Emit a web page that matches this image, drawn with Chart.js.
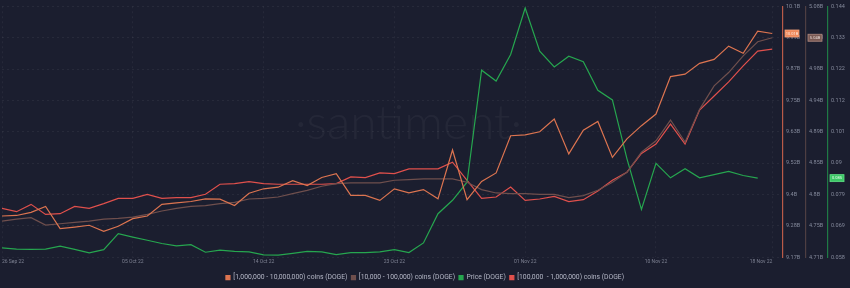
<!DOCTYPE html>
<html>
<head>
<meta charset="utf-8">
<script src="https://cdn.jsdelivr.net/npm/chart.js@4.4.0/dist/chart.umd.min.js"></script>
<style>
  html, body { margin: 0; padding: 0; background: #1b1e2f; }
  canvas { display: block; }
</style>
</head>
<body>
<canvas id="chart" width="850" height="288"></canvas>
<script>
const dates = [
  '26 Sep 22', '27 Sep 22', '28 Sep 22', '29 Sep 22', '30 Sep 22',
  '01 Oct 22', '02 Oct 22', '03 Oct 22', '04 Oct 22', '05 Oct 22', '06 Oct 22', '07 Oct 22',
  '08 Oct 22', '09 Oct 22', '10 Oct 22', '11 Oct 22', '12 Oct 22', '13 Oct 22', '14 Oct 22',
  '15 Oct 22', '16 Oct 22', '17 Oct 22', '18 Oct 22', '19 Oct 22', '20 Oct 22', '21 Oct 22',
  '22 Oct 22', '23 Oct 22', '24 Oct 22', '25 Oct 22', '26 Oct 22', '27 Oct 22', '28 Oct 22',
  '29 Oct 22', '30 Oct 22', '31 Oct 22', '01 Nov 22', '02 Nov 22', '03 Nov 22', '04 Nov 22',
  '05 Nov 22', '06 Nov 22', '07 Nov 22', '08 Nov 22', '09 Nov 22', '10 Nov 22', '11 Nov 22',
  '12 Nov 22', '13 Nov 22', '14 Nov 22', '15 Nov 22', '16 Nov 22', '17 Nov 22', '18 Nov 22'
];

// balances in billions of DOGE
const holders1Mto10M = [
  9.319, 9.321, 9.333, 9.355, 9.271, 9.277, 9.284, 9.261, 9.280, 9.309,
  9.319, 9.363, 9.369, 9.374, 9.384, 9.383, 9.359, 9.405, 9.422, 9.428,
  9.453, 9.434, 9.465, 9.479, 9.397, 9.397, 9.378, 9.422, 9.407, 9.419,
  9.384, 9.569, 9.381, 9.450, 9.482, 9.623, 9.626, 9.638, 9.686, 9.554,
  9.644, 9.677, 9.541, 9.611, 9.661, 9.705, 9.847, 9.856, 9.897, 9.912,
  9.962, 9.935, 10.019, 10.010
];
const holders10kto100k = [
  4.764, 4.767, 4.769, 4.758, 4.760, 4.762, 4.764, 4.767, 4.768, 4.770,
  4.774, 4.779, 4.783, 4.786, 4.787, 4.790, 4.792, 4.797, 4.798, 4.800,
  4.805, 4.810, 4.816, 4.820, 4.821, 4.821, 4.821, 4.825, 4.826, 4.827,
  4.827, 4.827, 4.822, 4.811, 4.806, 4.805, 4.805, 4.804, 4.804, 4.799,
  4.802, 4.810, 4.822, 4.837, 4.867, 4.884, 4.915, 4.882, 4.931, 4.966,
  4.986, 5.011, 5.032, 5.038
];
const holders100kto1M = [
  4.783, 4.778, 4.789, 4.774, 4.775, 4.786, 4.783, 4.790, 4.798, 4.798,
  4.804, 4.798, 4.799, 4.799, 4.804, 4.819, 4.820, 4.823, 4.820, 4.819,
  4.819, 4.819, 4.819, 4.820, 4.830, 4.829, 4.836, 4.835, 4.842, 4.842,
  4.842, 4.852, 4.825, 4.798, 4.800, 4.815, 4.795, 4.797, 4.801, 4.793,
  4.796, 4.809, 4.825, 4.837, 4.865, 4.879, 4.909, 4.879, 4.930, 4.951,
  4.972, 4.996, 5.018, 5.021
];
// price in USD, last day missing
const priceDoge = [
  0.0612, 0.0608, 0.0607, 0.0608, 0.0618, 0.0607, 0.0595, 0.0606, 0.0661, 0.0649,
  0.0638, 0.0627, 0.0619, 0.0623, 0.0597, 0.0604, 0.0600, 0.0598, 0.0588, 0.0587,
  0.0593, 0.0600, 0.0598, 0.0589, 0.0596, 0.0596, 0.0598, 0.0606, 0.0596, 0.0629,
  0.0729, 0.0775, 0.0837, 0.1221, 0.1184, 0.1275, 0.1434, 0.1286, 0.1232, 0.1269,
  0.1250, 0.1152, 0.1119, 0.0918, 0.0744, 0.0902, 0.0852, 0.0883, 0.0852, 0.0863,
  0.0874, 0.0860, 0.0851
];

const xTickLabels = ['26 Sep 22', '05 Oct 22', '14 Oct 22', '23 Oct 22', '01 Nov 22', '10 Nov 22', '18 Nov 22'];
const axis1Labels = ['9.17B', '9.28B', '9.4B', '9.52B', '9.63B', '9.75B', '9.87B', '9.99B', '10.1B'];
const axis2Labels = ['4.71B', '4.75B', '4.8B', '4.85B', '4.89B', '4.94B', '4.98B', '5.03B', '5.08B'];
const axis3Labels = ['0.058', '0.069', '0.079', '0.09', '0.101', '0.112', '0.122', '0.133', '0.144'];

const ORANGE = '#dc7450';
const BROWN = '#6f4f4d';
const GREEN = '#26a64f';
const RED = '#e0504c';

function points(arr) {
  return arr.map((v, i) => ({ x: i, y: v }));
}

function evenTicks(scale) {
  const n = 8;
  const ticks = [];
  for (let i = 0; i <= n; i++) ticks.push({ value: scale.min + (scale.max - scale.min) * i / n });
  scale.ticks = ticks;
}

const tickFont = { family: 'Roboto', size: 5.5 };

function yAxis(min, max, labels, color, width, showGrid) {
  return {
    position: 'right',
    min: min,
    max: max,
    afterBuildTicks: evenTicks,
    afterFit: s => { s.width = width; },
    border: { display: true, color: color, width: 1.2, dash: [2, 3] },
    grid: { display: showGrid, drawTicks: false, color: 'rgba(255,255,255,0.055)' },
    ticks: {
      padding: 3,
      color: '#858a9c',
      font: tickFont,
      callback: (v, i) => labels[i]
    }
  };
}

// pull the legend a little lower than chart.js would place it
const legendShift = {
  id: 'legendShift',
  afterInit(chart) {
    const legend = chart.legend;
    const fit = legend.fit;
    legend.fit = function () {
      fit.call(this);
      this.height -= 3;
    };
  }
};

const watermark = {
  id: 'watermark',
  beforeDatasetsDraw(chart) {
    const { ctx, chartArea } = chart;
    ctx.save();
    ctx.fillStyle = 'rgba(255,255,255,0.045)';
    ctx.font = '300 48px Lato';
    ctx.textAlign = 'center';
    ctx.textBaseline = 'alphabetic';
    ctx.fillText('\u00b7santiment\u00b7', (chartArea.left + chartArea.right) / 2 + 16, 139);
    ctx.restore();
  }
};

const valueBoxes = {
  id: 'valueBoxes',
  afterDraw(chart) {
    const { ctx } = chart;
    const boxes = [
      { ds: 0, axis: 'y1', bg: '#f08a5c', stroke: '#f5a27c', text: '#ffe9de', fmt: v => v.toFixed(2) + 'B' },
      { ds: 1, axis: 'y2', bg: '#7a5a54', stroke: '#b08a80', text: '#e6d8d4', fmt: v => v.toFixed(2) + 'B' },
      { ds: 2, axis: 'y3', bg: '#3cc766', stroke: '#5fe085', text: '#e8ffee', fmt: v => v.toFixed(3) }
    ];
    boxes.forEach(b => {
      const data = chart.data.datasets[b.ds].data;
      const last = data[data.length - 1].y;
      const scale = chart.scales[b.axis];
      const y = scale.getPixelForValue(last);
      const x = scale.left + 2;
      ctx.save();
      ctx.fillStyle = b.bg;
      ctx.strokeStyle = b.stroke;
      ctx.lineWidth = 0.8;
      ctx.fillRect(x, y - 3.5, 14, 7);
      ctx.strokeRect(x, y - 3.5, 14, 7);
      ctx.fillStyle = b.text;
      ctx.font = '4px Roboto';
      ctx.textAlign = 'center';
      ctx.textBaseline = 'middle';
      ctx.fillText(b.fmt(last), x + 7, y + 0.3);
      ctx.restore();
    });
  }
};

const ctx = document.getElementById('chart').getContext('2d');
new Chart(ctx, {
  type: 'line',
  data: {
    datasets: [
      { label: '[1,000,000 - 10,000,000) coins (DOGE)', data: points(holders1Mto10M), yAxisID: 'y1',
        borderColor: ORANGE, backgroundColor: ORANGE },
      { label: '[10,000 - 100,000) coins (DOGE)', data: points(holders10kto100k), yAxisID: 'y2',
        borderColor: BROWN, backgroundColor: BROWN },
      { label: 'Price (DOGE)', data: points(priceDoge), yAxisID: 'y3',
        borderColor: GREEN, backgroundColor: GREEN },
      { label: '[100,000  - 1,000,000) coins (DOGE)', data: points(holders100kto1M), yAxisID: 'y2',
        borderColor: RED, backgroundColor: RED }
    ]
  },
  options: {
    responsive: false,
    animation: false,
    devicePixelRatio: 1,
    layout: { padding: { top: 2, left: 0, right: 0, bottom: 0 } },
    elements: {
      line: { borderWidth: 1.2, tension: 0 },
      point: { radius: 0, hoverRadius: 0 }
    },
    scales: {
      x: {
        type: 'linear',
        min: 0,
        max: 53.74,
        afterBuildTicks: s => { s.ticks = xTickLabels.map(l => ({ value: dates.indexOf(l) })); },
        afterFit: s => { s.height += 3; },
        border: { display: false, dash: [2, 3] },
        grid: { drawTicks: false, color: 'rgba(255,255,255,0.05)' },
        ticks: {
          align: 'inner',
          padding: 2,
          color: '#7d8192',
          font: { family: 'Roboto', size: 5 },
          callback: (v, i) => xTickLabels[i]
        }
      },
      y1: yAxis(9.163, 10.113, axis1Labels, '#b95a48', 23, true),
      y2: yAxis(4.71, 5.085, axis2Labels, '#4e3e42', 22, false),
      y3: yAxis(0.058, 0.144, axis3Labels, '#1f7a45', 22, false)
    },
    plugins: {
      legend: {
        position: 'bottom',
        labels: {
          boxWidth: 4,
          boxHeight: 4,
          padding: 4,
          color: '#b4b7c6',
          font: { family: 'Roboto', size: 6.8 }
        }
      },
      tooltip: { enabled: false }
    }
  },
  plugins: [legendShift, watermark, valueBoxes]
});
</script>
</body>
</html>
